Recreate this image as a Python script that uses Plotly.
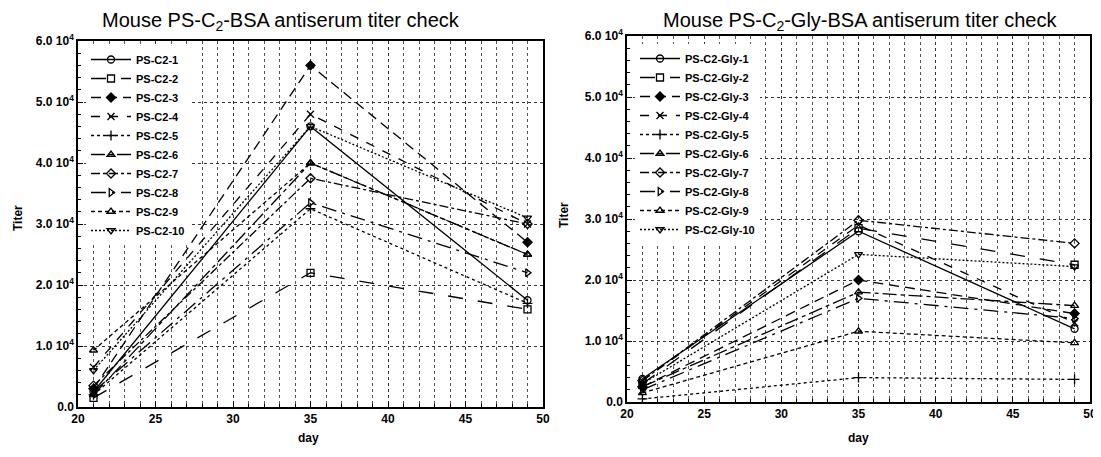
import plotly.graph_objects as go

days = [21, 35, 49]

left_names = ["PS-C2-1", "PS-C2-2", "PS-C2-3", "PS-C2-4", "PS-C2-5",
              "PS-C2-6", "PS-C2-7", "PS-C2-8", "PS-C2-9", "PS-C2-10"]
left_values = [
    [2500, 46000, 17500],
    [1500, 22000, 16000],
    [3000, 56000, 27000],
    [6500, 48000, 30000],
    [2000, 32500, 17000],
    [2000, 40000, 25000],
    [3500, 37500, 30000],
    [2500, 33500, 22000],
    [9300, 40000, 25000],
    [6000, 46000, 31000],
]

right_names = ["PS-C2-Gly-1", "PS-C2-Gly-2", "PS-C2-Gly-3", "PS-C2-Gly-4", "PS-C2-Gly-5",
               "PS-C2-Gly-6", "PS-C2-Gly-7", "PS-C2-Gly-8", "PS-C2-Gly-9", "PS-C2-Gly-10"]
right_values = [
    [3800, 28000, 12000],
    [3000, 28500, 22500],
    [2500, 20000, 14500],
    [3500, 29000, 13000],
    [500, 4000, 3700],
    [2500, 18000, 15800],
    [3500, 29800, 26000],
    [2000, 17000, 13700],
    [1500, 11600, 9700],
    [3000, 24200, 22200],
]

y_tickvals = [0, 10000, 20000, 30000, 40000, 50000, 60000]
y_ticktext = ["0.0", "1.0 10<sup>4</sup>", "2.0 10<sup>4</sup>", "3.0 10<sup>4</sup>",
              "4.0 10<sup>4</sup>", "5.0 10<sup>4</sup>", "6.0 10<sup>4</sup>"]

dashes = ["solid", "longdash", "10px,6px", "dash", "dot",
          "14px,4px,4px,4px", "dashdot", "longdashdot", "4px,3px", "2px,2px"]
symbols = ["circle-open", "square-open", "diamond", "x-thin-open", "cross-thin-open",
           "triangle-up-open", "diamond-open", "triangle-right-open", "triangle-up-open",
           "triangle-down-open"]

FONT = "Liberation Sans, Arial, sans-serif"
# page body has an 8px margin: the figure sits at (8, 8) in the window
OFF = 8
W, H = 1101 - OFF, 457 - OFF
def px(x):
    return (x - OFF) / W
def py(y):
    return 1 - (y - OFF) / H

fig = go.Figure()

for i, name in enumerate(left_names):
    fig.add_trace(go.Scatter(
        x=days, y=left_values[i], name=name, mode="lines+markers",
        line=dict(color="black", width=1.3, dash=dashes[i]),
        marker=dict(symbol=symbols[i], size=7, color="black",
                    line=dict(color="black", width=1.3)),
        xaxis="x", yaxis="y", legend="legend"))

for i, name in enumerate(right_names):
    fig.add_trace(go.Scatter(
        x=days, y=right_values[i], name=name, mode="lines+markers",
        line=dict(color="black", width=1.3, dash=dashes[i]),
        marker=dict(symbol=symbols[i], size=7, color="black",
                    line=dict(color="black", width=1.3)),
        xaxis="x2", yaxis="y2", legend="legend2"))

def xaxis_cfg(domain, anchor):
    return dict(domain=domain, anchor=anchor, range=[20, 50], dtick=5, tick0=20,
                automargin=False,
                showline=True, linecolor="black", linewidth=1.5, mirror=True,
                ticks="inside", ticklen=5, tickcolor="black",
                showgrid=True, gridcolor="#333", griddash="dot", gridwidth=1,
                minor=dict(dtick=1, showgrid=True, gridcolor="#555", griddash="dot",
                           ticks="inside", ticklen=3, tickcolor="black"),
                zeroline=False,
                tickfont=dict(family=FONT, size=12, color="black", weight="bold"))

def yaxis_cfg(domain, anchor):
    return dict(domain=domain, anchor=anchor, range=[0, 60000],
                automargin=False,
                tickvals=y_tickvals, ticktext=y_ticktext,
                showline=True, linecolor="black", linewidth=1.5, mirror=True,
                ticks="inside", ticklen=5, tickcolor="black", ticklabelstandoff=0,
                showgrid=True, gridcolor="#333", griddash="dot", gridwidth=1,
                minor=dict(dtick=2000, showgrid=False, ticks="inside", ticklen=3,
                           tickcolor="black"),
                zeroline=False,
                tickfont=dict(family=FONT, size=12, color="black", weight="bold"))

legend_common = dict(bgcolor="white", borderwidth=0,
                     font=dict(family=FONT, size=11, color="black", weight="bold"),
                     itemwidth=40, xanchor="left", yanchor="top", tracegroupgap=0)

title_font = dict(family=FONT, size=20, color="black")
lab_font = dict(family=FONT, size=12, color="black", weight="bold")
day_font = dict(family=FONT, size=12, color="black", weight="bold")

fig.update_layout(
    width=W, height=H,
    margin=dict(l=0, r=0, t=0, b=0, autoexpand=False),
    paper_bgcolor="white", plot_bgcolor="white",
    showlegend=True,
    xaxis=xaxis_cfg([px(78), px(543)], "y"),
    yaxis=yaxis_cfg([py(407), py(41)], "x"),
    xaxis2=xaxis_cfg([px(627), px(1090)], "y2"),
    yaxis2=yaxis_cfg([py(402), py(36)], "x2"),
    legend=dict(legend_common, x=px(86), y=py(45)),
    legend2=dict(legend_common, x=px(635), y=py(44)),
    annotations=[
        dict(text="Mouse PS-C<sub>2</sub>-BSA antiserum titer check", x=px(281), y=py(21),
             xref="paper", yref="paper", showarrow=False, xanchor="center", yanchor="middle",
             font=title_font),
        dict(text="Mouse PS-C<sub>2</sub>-Gly-BSA antiserum titer check", x=px(860), y=py(21),
             xref="paper", yref="paper", showarrow=False, xanchor="center", yanchor="middle",
             font=title_font),
        dict(text="Titer", x=px(18), y=py(218), xref="paper", yref="paper", showarrow=False,
             textangle=-90, xanchor="center", yanchor="middle", font=lab_font),
        dict(text="Titer", x=px(564), y=py(215), xref="paper", yref="paper", showarrow=False,
             textangle=-90, xanchor="center", yanchor="middle", font=lab_font),
        dict(text="day", x=px(308), y=py(438), xref="paper", yref="paper", showarrow=False,
             xanchor="center", yanchor="middle", font=day_font),
        dict(text="day", x=px(858), y=py(438), xref="paper", yref="paper", showarrow=False,
             xanchor="center", yanchor="middle", font=day_font),
    ],
)

fig.write_html("out.html")
